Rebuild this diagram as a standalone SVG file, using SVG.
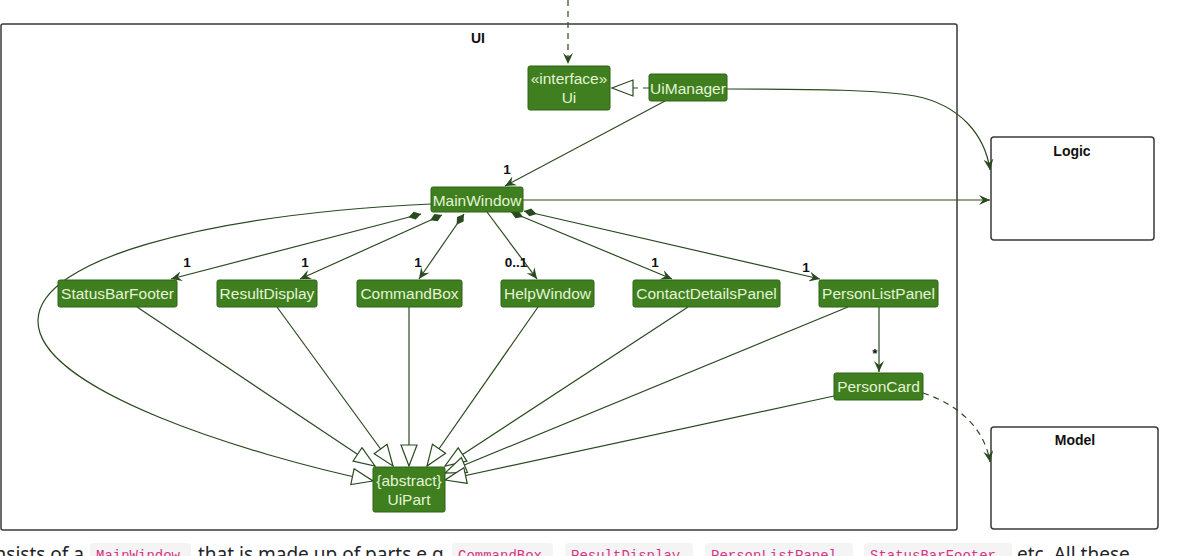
<svg xmlns="http://www.w3.org/2000/svg" width="1178" height="556" viewBox="0 0 1178 556">
<style>
.pkg{fill:#fff;stroke:#3a3a3a;stroke-width:1.5}
.ptitle{font-family:"Liberation Sans",Arial,sans-serif;font-size:14px;font-weight:bold;fill:#111;text-anchor:middle}
.node rect{fill:#3f7f1f;stroke:#2f6516;stroke-width:1}
.node text{font-family:"Liberation Sans",Arial,sans-serif;font-size:15.5px;fill:#e4f4d6;text-anchor:middle}
.c{fill:none;stroke:#2a4a20;stroke-width:1.2}
.dash{stroke-dasharray:6 5}
.lbl{font-family:"Liberation Sans",Arial,sans-serif;font-size:13.5px;font-weight:bold;fill:#111;text-anchor:middle}
.page{font-family:"Noto Sans","Open Sans",sans-serif;font-size:19px;fill:#212529}
.code{font-family:"Liberation Mono","DejaVu Sans Mono",monospace;font-size:14px;fill:#d63384}
.cbg{fill:#f4f4f4}
</style>
<defs>
<marker id="arr" markerUnits="userSpaceOnUse" markerWidth="12" markerHeight="10" refX="11" refY="5" orient="auto">
<path d="M0,0 L11,5 L0,10 L4,5 Z" fill="#2a4a20"/>
</marker>
<marker id="tri" markerUnits="userSpaceOnUse" markerWidth="24" markerHeight="20" refX="22" refY="9" orient="auto">
<path d="M1,1 L22,9 L1,17 Z" fill="#fff" stroke="#2a4a20" stroke-width="1.2"/>
</marker>
<marker id="dia" markerUnits="userSpaceOnUse" markerWidth="14" markerHeight="10" refX="0" refY="4.5" orient="auto">
<path d="M0,4.5 L6.5,0.5 L13,4.5 L6.5,8.5 Z" fill="#2a4a20"/>
</marker>
</defs>

<g id="pkg-ui">
<rect class="pkg" x="1" y="24" width="956" height="506" rx="2"/>
<text class="ptitle" x="478" y="43">UI</text>
</g>
<g id="pkg-logic">
<rect class="pkg" x="991" y="137" width="163" height="103" rx="3"/>
<text class="ptitle" x="1072" y="156">Logic</text>
</g>
<g id="pkg-model">
<rect class="pkg" x="991" y="427" width="167" height="102" rx="3"/>
<text class="ptitle" x="1075" y="445">Model</text>
</g>

<g id="connectors">
<path class="c dash" d="M568,0 L568,64" marker-end="url(#arr)"/>
<path class="c dash" d="M649,88 L612,88" marker-end="url(#tri)"/>
<path class="c" d="M727,89 C820,89 880,90 915,96 C960,105 985,135 990,170" marker-end="url(#arr)"/>
<path class="c" d="M665,101 L505,186" marker-end="url(#arr)"/>
<path class="c" d="M523,200 L990,200" marker-end="url(#arr)"/>
<path class="c" d="M421,214 L171,279" marker-start="url(#dia)" marker-end="url(#arr)"/>
<path class="c" d="M442,215 L300,279" marker-start="url(#dia)" marker-end="url(#arr)"/>
<path class="c" d="M464,214 L419,279" marker-start="url(#dia)" marker-end="url(#arr)"/>
<path class="c" d="M487,212 L537,279" marker-end="url(#arr)"/>
<path class="c" d="M511,212 L672,279" marker-start="url(#dia)" marker-end="url(#arr)"/>
<path class="c" d="M524,211 L820,279" marker-start="url(#dia)" marker-end="url(#arr)"/>
<path class="c" d="M879,307 L879,372" marker-end="url(#arr)"/>
<path class="c dash" d="M923,393 C960,405 985,430 990,462" marker-end="url(#arr)"/>
<path class="c" d="M431,204 C200,215 40,260 38,320 C36,390 250,455 373,481" marker-end="url(#tri)"/>
<path class="c" d="M137,307 L375,466" marker-end="url(#tri)"/>
<path class="c" d="M277,307 L393,466" marker-end="url(#tri)"/>
<path class="c" d="M409,307 L409,466" marker-end="url(#tri)"/>
<path class="c" d="M538,307 L427,466" marker-end="url(#tri)"/>
<path class="c" d="M688,307 L445,466" marker-end="url(#tri)"/>
<path class="c" d="M848,307 L445,473" marker-end="url(#tri)"/>
<path class="c" d="M834,396 L445,480" marker-end="url(#tri)"/>
<text class="lbl" x="507" y="174">1</text>
<text class="lbl" x="187" y="267">1</text>
<text class="lbl" x="305" y="267">1</text>
<text class="lbl" x="418" y="267">1</text>
<text class="lbl" x="516" y="267">0..1</text>
<text class="lbl" x="655" y="267">1</text>
<text class="lbl" x="806" y="272">1</text>
<text class="lbl" x="875" y="358">*</text>
</g>

<g id="node-ui" class="node">
<rect x="528" y="66" width="82" height="44" rx="2"/>
<text x="569" y="84">«interface»</text>
<text x="569" y="103">Ui</text>
</g>
<g id="node-uimanager" class="node">
<rect x="649" y="74" width="78" height="27" rx="2"/>
<text x="688" y="94">UiManager</text>
</g>
<g id="node-mainwindow" class="node">
<rect x="431" y="187" width="92" height="25" rx="2"/>
<text x="477" y="206">MainWindow</text>
</g>
<g id="node-statusbarfooter" class="node">
<rect x="58" y="280" width="119" height="27" rx="2"/>
<text x="117.5" y="299">StatusBarFooter</text>
</g>
<g id="node-resultdisplay" class="node">
<rect x="217" y="280" width="100" height="27" rx="2"/>
<text x="267" y="299">ResultDisplay</text>
</g>
<g id="node-commandbox" class="node">
<rect x="357" y="280" width="105" height="27" rx="2"/>
<text x="409.5" y="299">CommandBox</text>
</g>
<g id="node-helpwindow" class="node">
<rect x="501" y="280" width="93" height="27" rx="2"/>
<text x="547.5" y="299">HelpWindow</text>
</g>
<g id="node-contactdetailspanel" class="node">
<rect x="633" y="280" width="147" height="27" rx="2"/>
<text x="706.5" y="299">ContactDetailsPanel</text>
</g>
<g id="node-personlistpanel" class="node">
<rect x="819" y="280" width="119" height="27" rx="2"/>
<text x="878.5" y="299">PersonListPanel</text>
</g>
<g id="node-personcard" class="node">
<rect x="834" y="373" width="89" height="27" rx="2"/>
<text x="878.5" y="392">PersonCard</text>
</g>
<g id="node-uipart" class="node">
<rect x="373" y="467" width="72" height="45" rx="2"/>
<text x="409" y="486">{abstract}</text>
<text x="409" y="505">UiPart</text>
</g>

<g id="page-text">
<text class="page" x="84" y="561" text-anchor="end">consists of a</text>
<rect class="cbg" x="90" y="543" width="101" height="22" rx="4"/>
<text class="code" x="96" y="560">MainWindow</text>
<text class="page" x="198" y="561">that is made up of parts e.g.</text>
<rect class="cbg" x="452" y="543" width="101" height="22" rx="4"/>
<text class="code" x="458" y="560">CommandBox</text>
<text class="page" x="555" y="561">,</text>
<rect class="cbg" x="565" y="543" width="128" height="22" rx="4"/>
<text class="code" x="571" y="560">ResultDisplay</text>
<text class="page" x="695" y="561">,</text>
<rect class="cbg" x="705" y="543" width="148" height="22" rx="4"/>
<text class="code" x="711" y="560">PersonListPanel</text>
<text class="page" x="855" y="561">,</text>
<rect class="cbg" x="864" y="543" width="148" height="22" rx="4"/>
<text class="code" x="870" y="560">StatusBarFooter</text>
<text class="page" x="1017" y="561">etc. All these</text>
</g>
</svg>
